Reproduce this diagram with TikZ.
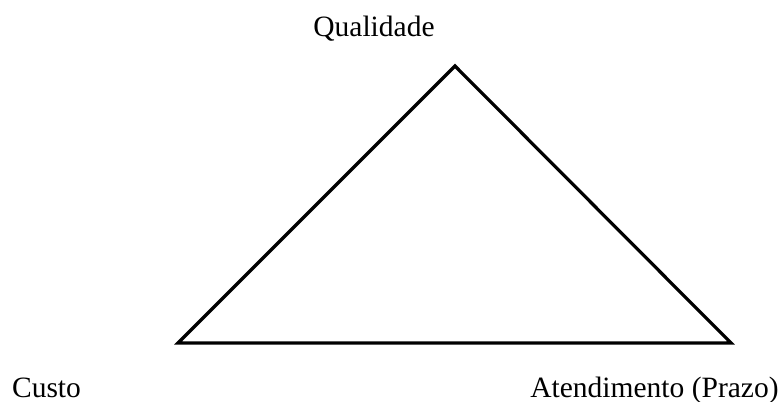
\documentclass[tikz,border=0pt]{standalone}
\usepackage{fontspec}
\setmainfont{Liberation Serif}
\begin{document}
\begin{tikzpicture}[x=1pt,y=-1pt,
  lbl/.style={font=\fontsize{29.5}{33}\selectfont, inner sep=0pt, anchor=base},
  edge/.style={line width=3.2pt, line join=miter}]
\useasboundingbox (0,0) rectangle (780,402);
\coordinate (top) at (455,66);
\coordinate (bl) at (178,343);
\coordinate (br) at (731,343);
\draw[edge] (top) -- (br) -- (bl) -- cycle;
\node[lbl] (q) at (374,36) {Qualidade};
\node[lbl] (c) at (46.5,397) {Custo};
\node[lbl] (a) at (654.5,397) {Atendimento (Prazo)};
\end{tikzpicture}
\end{document}
